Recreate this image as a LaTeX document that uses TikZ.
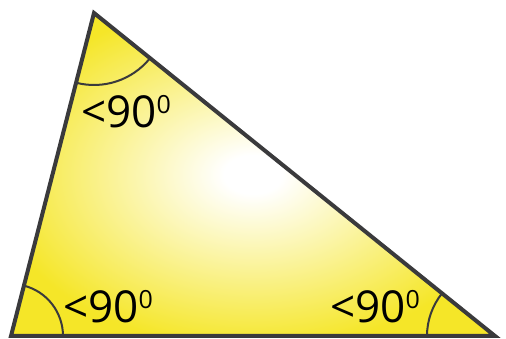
\documentclass[tikz,border=0pt]{standalone}
\usepackage{fontspec}
\setmainfont{Open Sans}
\usepackage{tikz}
\usetikzlibrary{angles, calc}
\definecolor{TriYellow}{RGB}{245, 230, 40}
\definecolor{EdgeGray}{RGB}{58, 58, 60}
\pgfdeclareradialshading{softglow}{\pgfpoint{0bp}{0bp}}{color(0bp)=(white); color(3bp)=(white); color(27bp)=(TriYellow); color(50bp)=(TriYellow)}
\newcommand{\smallzero}{\raisebox{14pt}{\fontsize{25}{25}\selectfont 0}}
\tikzset{
    anglelabel/.style={font=\fontsize{44}{48}\selectfont, text=black, inner sep=0pt},
    anglearc/.style={draw=EdgeGray, line width=2pt}
}

\begin{document}
\begin{tikzpicture}[x=1pt, y=1pt]
            \useasboundingbox (0,0) rectangle (506,339);
            \coordinate (A) at (94,326);
            \coordinate (B) at (11,3);
            \coordinate (C) at (495,3);
            \shade[shading=softglow] (A) -- (B) -- (C) -- cycle;
            \pic[anglearc, angle radius=72pt] {angle=B--A--C};
            \pic[anglearc, angle radius=52pt] {angle=C--B--A};
            \pic[anglearc, angle radius=68pt] {angle=A--C--B};
            \draw[line width=4pt, draw=EdgeGray] (A) -- (B) -- (C) -- cycle;
            \node[anglelabel] (lblA) at (126,227) {<90\smallzero};
            \node[anglelabel] (lblB) at (108,32) {<90\smallzero};
            \node[anglelabel] (lblC) at (375,32) {<90\smallzero};
        \end{tikzpicture}
\end{document}
